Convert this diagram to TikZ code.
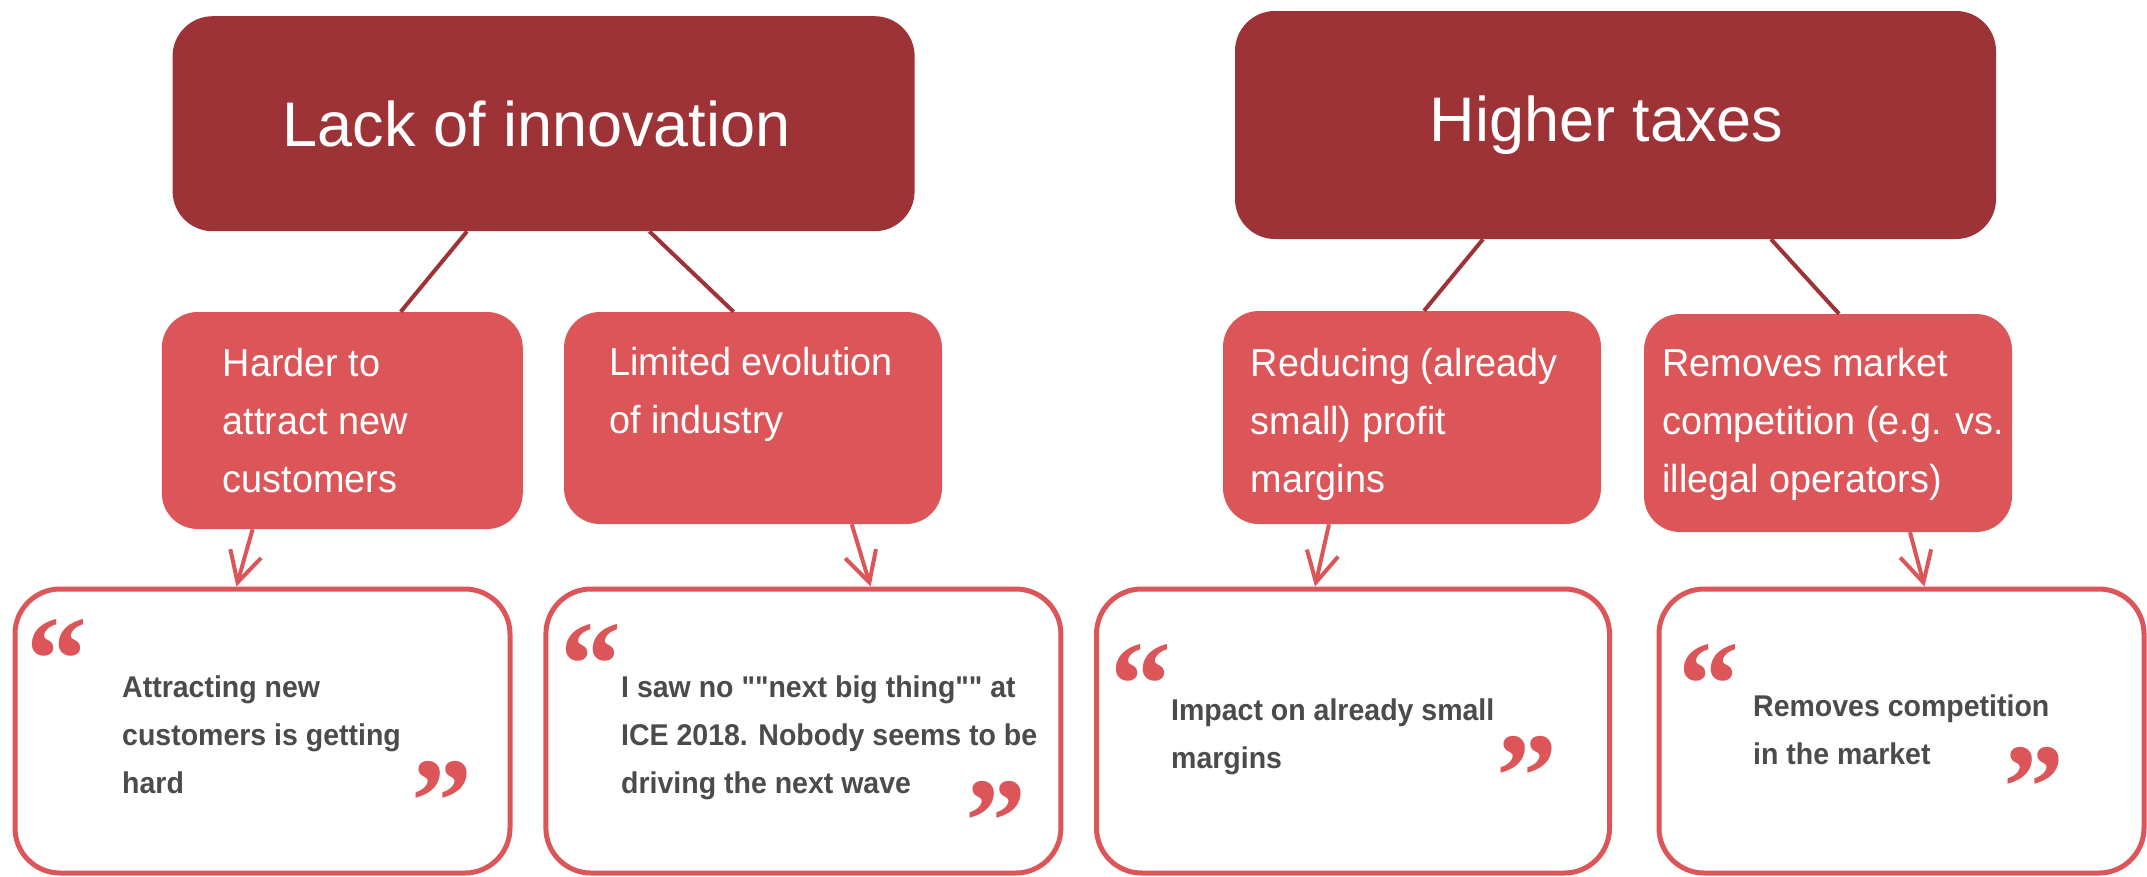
\documentclass[tikz,border=0pt]{standalone}
\usepackage{fontspec}
\setmainfont{Liberation Sans}
\newfontfamily\headfont{Liberation Sans}
\newfontfamily\midfont[FakeStretch=0.97]{Liberation Sans}
\newfontfamily\quotefont[FakeStretch=0.95]{Liberation Sans}
\newfontfamily\qmarkfont{Liberation Serif}
\usetikzlibrary{arrows.meta}
\definecolor{darkred}{HTML}{9E3337}
\definecolor{midred}{HTML}{DC5558}
\definecolor{textgray}{HTML}{4B4B4B}
\tikzset{
  topbox/.style={fill=darkred, rounded corners=40pt, inner sep=0pt, text=white,
    font=\headfont\fontsize{63}{70}\selectfont},
  midbox/.style={fill=midred, rounded corners=36pt, inner sep=0pt},
  quotebox/.style={draw=midred, line width=5pt, fill=white, rounded corners=45pt, inner sep=0pt},
  % anchor "base" of a multi-line node sits on the last line's baseline
  midtext/.style={anchor=base west, align=left, inner sep=0pt, text=white,
    font=\midfont\fontsize{39}{58}\selectfont},
  quotetext/.style={anchor=base west, align=left, inner sep=0pt, text=textgray,
    font=\quotefont\bfseries\fontsize{30}{48}\selectfont},
  qmark/.style={anchor=base west, inner sep=0pt, text=midred, text depth=0pt,
    font=\qmarkfont\bfseries\fontsize{122}{122}\selectfont},
  link/.style={draw=darkred, line width=4pt},
  arrowlink/.style={draw=midred, line width=4pt,
    -{Straight Barb[length=30pt, width=32pt, line width=4pt]}}
}
\begin{document}
\begin{tikzpicture}[x=1pt, y=-1pt]
\useasboundingbox (0,0) rectangle (2147,876);

% top-level causes (titles sit a little left of centre)
\node[topbox, minimum width=742pt, minimum height=215pt] (t1) at (543.6,123.7) {Lack of innovation\kern14pt};
\node[topbox, minimum width=761pt, minimum height=228pt] (t2) at (1615.5,125) {Higher taxes\kern18pt};

% effects
\node[midbox, minimum width=361pt, minimum height=217pt] (ma) at (342.3,420.5) {};
\node[midbox, minimum width=378pt, minimum height=212pt] (mb) at (753,418) {};
\node[midbox, minimum width=378pt, minimum height=213pt] (mc) at (1412,417.5) {};
\node[midbox, minimum width=368pt, minimum height=218pt] (md) at (1828,423) {};

\node[midtext] (ta) at (222.7,492) {Harder to\\attract new\\customers};
\node[midtext] (tb) at (609,433) {Limited evolution\\of industry};
\node[midtext] (tc) at (1250.5,492) {Reducing (already\\small) profit\\margins};
\node[midtext] (td) at (1662,492) {Removes market\\competition (e.g. vs.\\illegal operators)};

% quotes
\node[quotebox, minimum width=495pt, minimum height=284pt] (qa) at (262.5,731) {};
\node[quotebox, minimum width=515pt, minimum height=284pt] (qb) at (803.4,731) {};
\node[quotebox, minimum width=513pt, minimum height=284pt] (qc) at (1353,731) {};
\node[quotebox, minimum width=485pt, minimum height=284pt] (qd) at (1901.5,731) {};

\node[quotetext] (xa) at (122,793) {Attracting new\\customers is getting\\hard};
\node[quotetext] (xb) at (621,793) {I saw no ""next big thing"" at\\ICE 2018. Nobody seems to be\\driving the next wave};
\node[quotetext] (xc) at (1171,768) {Impact on already small\\margins};
\node[quotetext] (xd) at (1753,764) {Removes competition\\in the market};

\node[qmark] (oa) at (26,700) {“};
\node[qmark] (ca) at (410.8,842) {”};
\node[qmark] (ob) at (560,705) {“};
\node[qmark] (cb) at (965,862) {”};
\node[qmark] (oc) at (1110,725) {“};
\node[qmark] (cc) at (1496,817) {”};
\node[qmark] (od) at (1678,725) {“};
\node[qmark] (cd) at (2003,828) {”};

% links from causes to effects
\draw[link] ([xshift=-76.6pt]t1.south) -- ([xshift=58.4pt]ma.north);
\draw[link] ([xshift=105.8pt]t1.south) -- ([xshift=-19.4pt]mb.north);
\draw[link] ([xshift=-132.5pt]t2.south) -- ([xshift=12pt]mc.north);
\draw[link] ([xshift=155.5pt]t2.south) -- ([xshift=11pt]md.north);

% arrows from effects to quotes
\draw[arrowlink] ([xshift=-89.7pt]ma.south) -- ([xshift=-26.1pt]qa.north);
\draw[arrowlink] ([xshift=98.7pt]mb.south) -- ([xshift=67.2pt]qb.north);
\draw[arrowlink] ([xshift=-83pt]mc.south) -- ([xshift=-38pt]qc.north);
\draw[arrowlink] ([xshift=82pt]md.south) -- ([xshift=23pt]qd.north);
\end{tikzpicture}
\end{document}
